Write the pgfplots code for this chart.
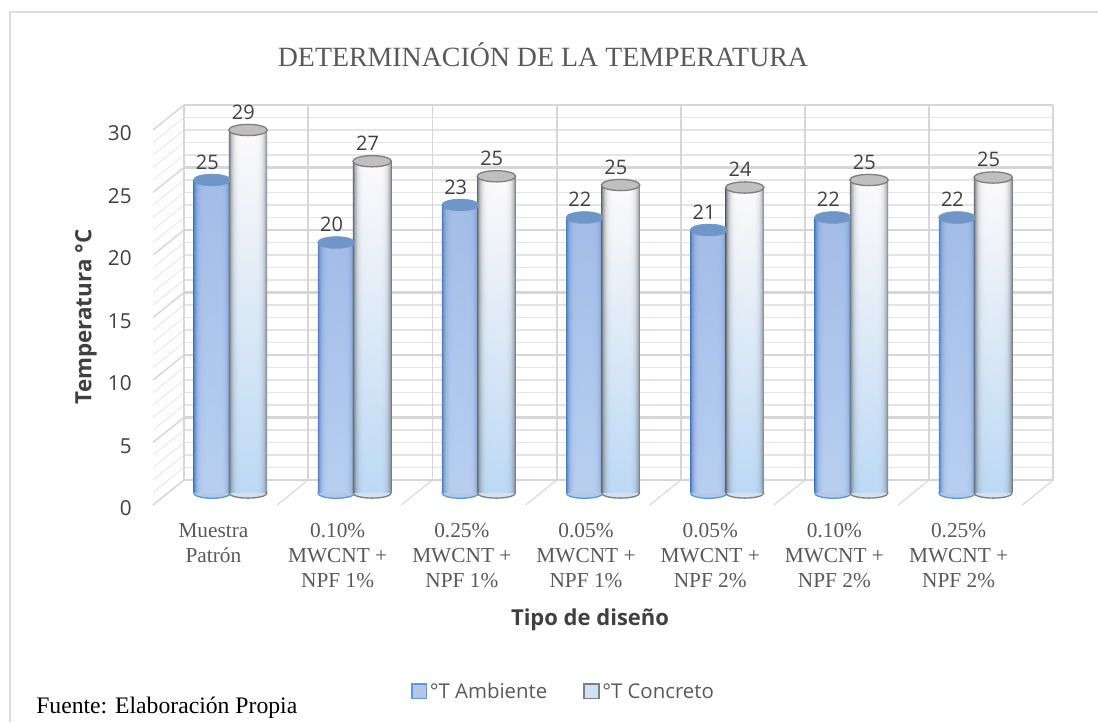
\documentclass[border=0pt]{standalone}
\usepackage{pgfplots}
\pgfplotsset{compat=1.18}
\usepackage{pgfplotstable}
\usepackage{fontspec}
\setmainfont{Open Sans}
\newfontfamily\serif{Liberation Serif}
\definecolor{txt}{HTML}{595959}
\definecolor{dark}{HTML}{404040}
\definecolor{gridc}{HTML}{E4E4E4}
\definecolor{gridm}{HTML}{D6D6D6}
\definecolor{frame}{HTML}{DDDDDD}
\definecolor{bluefill}{HTML}{B4C7E7}
\definecolor{blueedge}{HTML}{5B9BD5}
\definecolor{bluecap}{HTML}{7096C8}
\definecolor{whitefill}{HTML}{CFE2F3}
\definecolor{greyedge}{HTML}{7F7F7F}
\definecolor{greycap}{HTML}{BFBFBF}
\pgfdeclarefunctionalshading{cylblue}{\pgfpoint{-50bp}{-50bp}}{\pgfpoint{50bp}{50bp}}{}{
25 add 50 div exch 25 add 50 div
2 mul 1 sub dup mul dup dup mul mul
1 index 0.08 mul 0.72 exch sub 1 index 1 exch sub mul 1 index 0.30 mul add
2 index 0.07 mul 0.81 exch sub 2 index 1 exch sub mul 2 index 0.50 mul add
3 index 0.03 mul 0.94 exch sub 3 index 1 exch sub mul 3 index 0.75 mul add
5 -2 roll pop pop
}
\pgfdeclarefunctionalshading{cylwhite}{\pgfpoint{-50bp}{-50bp}}{\pgfpoint{50bp}{50bp}}{}{
25 add 50 div exch 25 add 50 div
2 mul 1 sub dup mul dup dup mul mul
1 index 0.25 mul 0.74 add 1 index 1 exch sub mul 1 index 0.42 mul add
2 index 0.13 mul 0.85 add 2 index 1 exch sub mul 2 index 0.44 mul add
3 index 0.02 mul 0.96 add 3 index 1 exch sub mul 3 index 0.47 mul add
5 -2 roll pop pop
}
\pgfdeclareplotmark{capB}{\pgfpathellipse{\pgfpointorigin}{\pgfpoint{13.9pt}{0pt}}{\pgfpoint{0pt}{4.4pt}}\pgfusepathqfillstroke}
\pgfdeclareplotmark{capW}{\pgfpathellipse{\pgfpointorigin}{\pgfpoint{14.4pt}{0pt}}{\pgfpoint{0pt}{4.2pt}}\pgfusepathqfillstroke}
\pgfdeclareplotmark{baseB}{\pgfpathmoveto{\pgfpoint{-13.9pt}{0pt}}\pgfpathcurveto{\pgfpoint{-13.9pt}{-5.8pt}}{\pgfpoint{13.9pt}{-5.8pt}}{\pgfpoint{13.9pt}{0pt}}\pgfusepathqfillstroke}
\pgfdeclareplotmark{baseW}{\pgfpathmoveto{\pgfpoint{-14.4pt}{0pt}}\pgfpathcurveto{\pgfpoint{-14.4pt}{-5.6pt}}{\pgfpoint{14.4pt}{-5.6pt}}{\pgfpoint{14.4pt}{0pt}}\pgfusepathqfillstroke}
\pgfplotstableread{
x   amb  con
0   25   29
1   20   26.5
2   23   25.3
3   22   24.6
4   21   24.4
5   22   25.0
6   22   25.2
}\datatable
\begin{document}
\begin{tikzpicture}[x=1pt,y=1pt]
\path[use as bounding box] (0,0) rectangle (823.5,541.5);
\draw[frame,line width=1.8pt] (7.5,0) -- (7.5,532.5) -- (823.5,532.5);
\node[anchor=west,font=\fontsize{17.75}{20}\selectfont\serif,text=black] at (23.7,11) {Fuente: Elaboración Propia};
\begin{axis}[
  at={(114.75pt,162.75pt)},anchor=south west,
  scale only axis,width=675pt,height=300pt,
  xmin=-0.62,xmax=6.627,ymin=-1,ymax=31,
  clip=false,
  axis line style={draw=none},
  major tick length=0pt,
  tick style={draw=none},
  axis x line*=bottom,axis y line*=left,
  xtick={0,...,6},
  xticklabels={{Muestra\\Patrón},{0.10\%\\MWCNT +\\NPF 1\%},{0.25\%\\MWCNT +\\NPF 1\%},{0.05\%\\MWCNT +\\NPF 1\%},{0.05\%\\MWCNT +\\NPF 2\%},{0.10\%\\MWCNT +\\NPF 2\%},{0.25\%\\MWCNT +\\NPF 2\%}},
  xticklabel style={align=center,text=txt,font=\fontsize{16}{18.5}\selectfont\serif,yshift=-10.5pt,xshift=-12.4pt},
  ytick={0,5,...,30},
  yticklabel style={text=dark,font=\fontsize{15.5}{18}\selectfont,/pgf/number format/assume math mode=true,yshift=-12pt,xshift=-12.5pt},
  title={\serif DETERMINACIÓN DE LA TEMPERATURA},
  title style={at={(axis description cs:.4333,1.105)},anchor=center,font=\fontsize{20.9}{24}\selectfont,text=txt},
  xlabel={\bfseries Tipo de diseño},
  ylabel={\bfseries Temperatura °C},
  xlabel style={at={(axis description cs:.4856,-.2875)},anchor=center,font=\fontsize{16.5}{18}\selectfont,text=dark},
  ylabel style={at={(axis description cs:-.0744,.47)},anchor=center,font=\fontsize{16.8}{18}\selectfont,text=dark},
  legend style={at={(axis description cs:.4564,-.4675)},anchor=center,draw=none,fill=none,legend columns=2,font=\fontsize{15.3}{18}\selectfont,text=txt,/tikz/every even column/.style={column sep=25pt}},
]
\pgfplotsinvokeforeach{0,...,30}{
  \draw[gridc,line width=1.2pt] (axis cs:-0.37,#1+1) -- (axis cs:6.627,#1+1);
  \draw[gridc,line width=.6pt] (axis cs:-0.37,#1+1) -- (axis cs:-0.62,#1-1);
}
\pgfplotsinvokeforeach{0,5,...,30}{
  \draw[gridm,line width=1.6pt] (axis cs:-0.37,#1+1) -- (axis cs:6.627,#1+1);
  \draw[gridm,line width=1pt] (axis cs:-0.37,#1+1) -- (axis cs:-0.62,#1-1);
}
\pgfplotsinvokeforeach{0,...,7}{
  \draw[gridm,line width=1.4pt] (axis cs:#1-0.37,1) -- (axis cs:#1-0.37,31);
  \draw[gridm,line width=.8pt] (axis cs:#1-0.37,1) -- (axis cs:#1-0.62,-1);
}
% blue series
\addplot[forget plot,only marks,mark=baseB,mark options={fill=bluefill,draw=blueedge,line width=1pt}] table[x expr=\thisrow{x}-0.145,y expr=0] {\datatable};
\pgfplotsinvokeforeach{0,...,6}{
\addplot[forget plot,ybar,bar width=27.6pt,bar shift=-13.5pt,draw=none,shading=cylblue,restrict x to domain=#1:#1] table[x=x,y=amb] {\datatable};
}
\addplot[forget plot,only marks,mark=capB,mark options={fill=bluecap,draw=bluecap,line width=.5pt},
  nodes near coords={\pgfmathprintnumber[fixed,precision=0,assume math mode=true]{\pgfplotspointmeta}},
  nodes near coords style={anchor=center,xshift=-3.5pt,yshift=13.5pt,font=\fontsize{15}{18}\selectfont,text=dark},
  point meta=y] table[x expr=\thisrow{x}-0.145,y=amb] {\datatable};
% white series
\addplot[forget plot,only marks,mark=baseW,mark options={fill=whitefill,draw=greyedge,line width=1pt}] table[x expr=\thisrow{x}+0.145,y expr=0] {\datatable};
\pgfplotsinvokeforeach{0,...,6}{
\addplot[forget plot,ybar,bar width=28.8pt,bar shift=13.5pt,draw=none,shading=cylwhite,restrict x to domain=#1:#1] table[x=x,y=con] {\datatable};
}
\addplot[forget plot,only marks,mark=capW,mark options={fill=greycap,draw=greyedge,line width=1pt},
  nodes near coords={\pgfmathprintnumber[fixed,precision=0,assume math mode=true]{\pgfplotspointmeta}},
  nodes near coords style={anchor=center,xshift=-3.5pt,yshift=13.5pt,font=\fontsize{15}{18}\selectfont,text=dark},
  point meta=y] table[x expr=\thisrow{x}+0.145,y=con] {\datatable};
\addlegendimage{legend image code/.code={\draw[draw=blueedge,fill=bluefill,line width=1.2pt] (0pt,-5pt) rectangle (11pt,6pt);}}
\addlegendentry{°T Ambiente}
\addlegendimage{legend image code/.code={\draw[draw=greyedge,fill=whitefill,line width=1.2pt] (0pt,-5pt) rectangle (11pt,6pt);}}
\addlegendentry{°T Concreto}
\end{axis}
\end{tikzpicture}
\end{document}
